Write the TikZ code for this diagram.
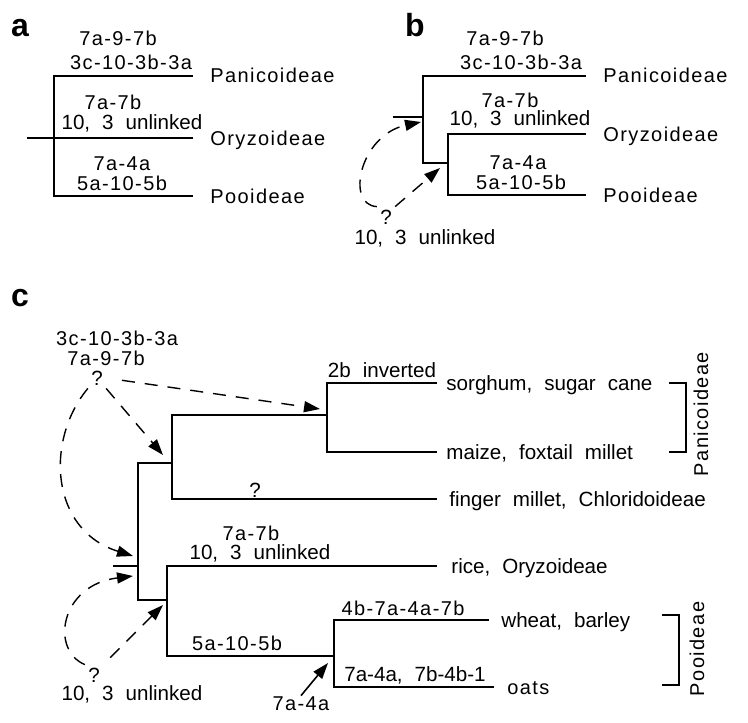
\documentclass[tikz,border=0pt]{standalone}
\usepackage{fontspec}
\setmainfont{Liberation Sans}
\newfontfamily\spacedfam{Liberation Sans}[LetterSpace=7]
\usetikzlibrary{arrows.meta, positioning}
\newcommand{\gp}{\hspace{6pt}}
\tikzset{
  branch/.style={line width=0.8pt},
  move/.style={-{Stealth[length=8pt,width=5.5pt,inset=0pt]}, line width=0.8pt},
  guess/.style={move, line width=0.7pt, dash pattern=on 6.5pt off 5pt},
  chrom/.style={font=\spacedfam\fontsize{10}{11}\selectfont, inner sep=0pt, text height=7pt, text depth=0pt},
  note/.style={font=\fontsize{10.3}{11}\selectfont, inner sep=0pt, text height=7pt, text depth=0pt},
  leaf/.style={chrom, anchor=west},
  taxon/.style={note, anchor=west},
  qmark/.style={note, inner sep=1.5pt},
  panel/.style={font=\fontsize{16}{18}\selectfont\bfseries, inner sep=0pt},
}

\begin{document}
\begin{tikzpicture}[x=0.5pt,y=-0.5pt]
  \useasboundingbox (0,0) rectangle (748,722);

  % panel a
  \node[panel] (la) at (20,28) {a};
  \coordinate (aStub) at (27,138);
  \coordinate (aPan0) at (54,76);  \coordinate (aPan1) at (193,76);
  \coordinate (aOry1) at (193,138);
  \coordinate (aPoo0) at (54,196); \coordinate (aPoo1) at (193,196);
  \draw[branch] (aPan1) -- (aPan0) -- (aPoo0) -- (aPoo1);
  \draw[branch] (aStub) -- (aOry1);
  \node[leaf, right=8.5pt of aPan1] (aPan) {Panicoideae};
  \node[leaf, right=8.5pt of aOry1] (aOry) {Oryzoideae};
  \node[leaf, right=8.5pt of aPoo1] (aPoo) {Pooideae};
  \node[chrom] (aPanA) at (118,39) {7a-9-7b};
  \node[chrom] (aPanB) at (131,62) {3c-10-3b-3a};
  \node[chrom] (aOryA) at (113,102) {7a-7b};
  \node[note] (aOryB) at (132,122) {10,\gp 3\gp unlinked};
  \node[chrom] (aPooA) at (122,163) {7a-4a};
  \node[chrom] (aPooB) at (122,183) {5a-10-5b};

  % panel b
  \node[panel] (lb) at (415,25) {b};
  \coordinate (bStub) at (393,117); \coordinate (bJ) at (423,117);
  \coordinate (bPan0) at (423,76);  \coordinate (bPan1) at (586,76);
  \coordinate (bIn0) at (423,163);  \coordinate (bIn1) at (448,163);
  \coordinate (bOry0) at (448,134); \coordinate (bOry1) at (586,134);
  \coordinate (bPoo0) at (448,195); \coordinate (bPoo1) at (586,195);
  \draw[branch] (bPan1) -- (bPan0) -- (bIn0) -- (bIn1);
  \draw[branch] (bOry1) -- (bOry0) -- (bPoo0) -- (bPoo1);
  \draw[branch] (bStub) -- (bJ);
  \node[leaf, right=8.5pt of bPan1] (bPan) {Panicoideae};
  \node[leaf, right=8.5pt of bOry1] (bOry) {Oryzoideae};
  \node[leaf, right=8.5pt of bPoo1] (bPoo) {Pooideae};
  \node[chrom] (bPanA) at (505,39) {7a-9-7b};
  \node[chrom] (bPanB) at (521,62) {3c-10-3b-3a};
  \node[chrom] (bOryA) at (510,100) {7a-7b};
  \node[note] (bOryB) at (520,119) {10,\gp 3\gp unlinked};
  \node[chrom] (bPooA) at (518,162) {7a-4a};
  \node[chrom] (bPooB) at (521,182) {5a-10-5b};
  \node[qmark] (bq) at (386,217) {?};
  \node[note] (bqB) at (425,237) {10,\gp 3\gp unlinked};
  \coordinate (bHit1) at (421,122);
  \coordinate (bHit2) at (440,168);
  \draw[guess] (bq.north west) .. controls (345,205) and (360,135) .. (bHit1);
  \draw[guess] (bq.north east) -- (bHit2);

  % panel c
  \node[panel] (lc) at (20,298) {c};
  \coordinate (cStub) at (113,566); \coordinate (cJ) at (138,566);
  \coordinate (cUp0) at (138,463);  \coordinate (cUp1) at (172,463);
  \coordinate (cPan0) at (172,415); \coordinate (cPan1) at (327,415);
  \coordinate (cSor0) at (327,383); \coordinate (cSor1) at (437,383);
  \coordinate (cMai0) at (327,452); \coordinate (cMai1) at (437,452);
  \coordinate (cFin0) at (172,499); \coordinate (cFin1) at (437,499);
  \coordinate (cLo0) at (138,600);  \coordinate (cLo1) at (167,600);
  \coordinate (cRic0) at (167,566); \coordinate (cRic1) at (437,566);
  \coordinate (cPoo0) at (167,656); \coordinate (cPoo1) at (334,656);
  \coordinate (cWhe0) at (334,620); \coordinate (cWhe1) at (489,620);
  \coordinate (cOat0) at (334,687); \coordinate (cOat1) at (494,687);
  \draw[branch] (cStub) -- (cJ);
  \draw[branch] (cUp1) -- (cUp0) -- (cLo0) -- (cLo1);
  \draw[branch] (cPan1) -- (cPan0) -- (cFin0) -- (cFin1);
  \draw[branch] (cSor1) -- (cSor0) -- (cMai0) -- (cMai1);
  \draw[branch] (cRic1) -- (cRic0) -- (cPoo0) -- (cPoo1);
  \draw[branch] (cWhe1) -- (cWhe0) -- (cOat0) -- (cOat1);
  \node[taxon, right=4.5pt of cSor1] (cSor) {sorghum,\gp sugar\gp cane};
  \node[taxon, right=4.5pt of cMai1] (cMai) {maize,\gp foxtail\gp millet};
  \node[taxon, right=6pt of cFin1] (cFin) {finger\gp millet,\gp Chloridoideae};
  \node[taxon, right=7pt of cRic1] (cRic) {rice,\gp Oryzoideae};
  \node[taxon, right=6pt of cWhe1] (cWhe) {wheat,\gp barley};
  \node[leaf, right=6.5pt of cOat1] (cOat) {oats};
  \node[note] (cInv) at (382,370) {2b\gp inverted};
  \node[note] (cFinQ) at (255,490) {?};
  \node[chrom] (cRicA) at (251,533) {7a-7b};
  \node[note] (cRicB) at (260,552) {10,\gp 3\gp unlinked};
  \node[chrom] (cPooA) at (237,643) {5a-10-5b};
  \node[chrom] (cWheA) at (403,608) {4b-7a-4a-7b};
  \node[note] (cOatA) at (415,674) {7a-4a,\gp 7b-4b-1};
  \node[chrom] (c74) at (301,703) {7a-4a};
  % brackets
  \coordinate (pb0) at (669,383); \coordinate (pb1) at (686,383);
  \coordinate (pb2) at (686,452); \coordinate (pb3) at (669,452);
  \draw[branch] (pb0) -- (pb1) -- (pb2) -- (pb3);
  \node[chrom, rotate=90] (cPanName) at (701,414) {Panicoideae};
  \coordinate (ob0) at (662,615); \coordinate (ob1) at (679,615);
  \coordinate (ob2) at (679,685); \coordinate (ob3) at (662,685);
  \draw[branch] (ob0) -- (ob1) -- (ob2) -- (ob3);
  \node[chrom, rotate=90] (cPooName) at (697,649) {Pooideae};
  % rearrangements
  \node[chrom] (cqA) at (117,338) {3c-10-3b-3a};
  \node[chrom] (cqB) at (106,358) {7a-9-7b};
  \node[qmark] (cq) at (97,378) {?};
  \node[qmark] (cbq) at (94,675) {?};
  \node[note] (cbqB) at (132,693) {10,\gp 3\gp unlinked};
  \coordinate (cHit1) at (133,556);
  \coordinate (cHit2) at (133,576);
  \coordinate (cHit3) at (163,605);
  \coordinate (cHit4) at (163,455);
  \coordinate (cHit5) at (320,409);
  \coordinate (cHit6) at (328,663);
  \draw[guess, shorten <=8pt] (cq.east) -- (cHit5);
  \draw[guess] (cq.south east) -- (cHit4);
  \draw[guess] (cq.south west) .. controls (45,440) and (50,530) .. (cHit1);
  \draw[guess] (cbq.north west) .. controls (50,650) and (60,585) .. (cHit2);
  \draw[guess, shorten <=5pt] (cbq.north east) -- (cHit3);
  \draw[move] (c74.north) -- (cHit6);
\end{tikzpicture}
\end{document}
